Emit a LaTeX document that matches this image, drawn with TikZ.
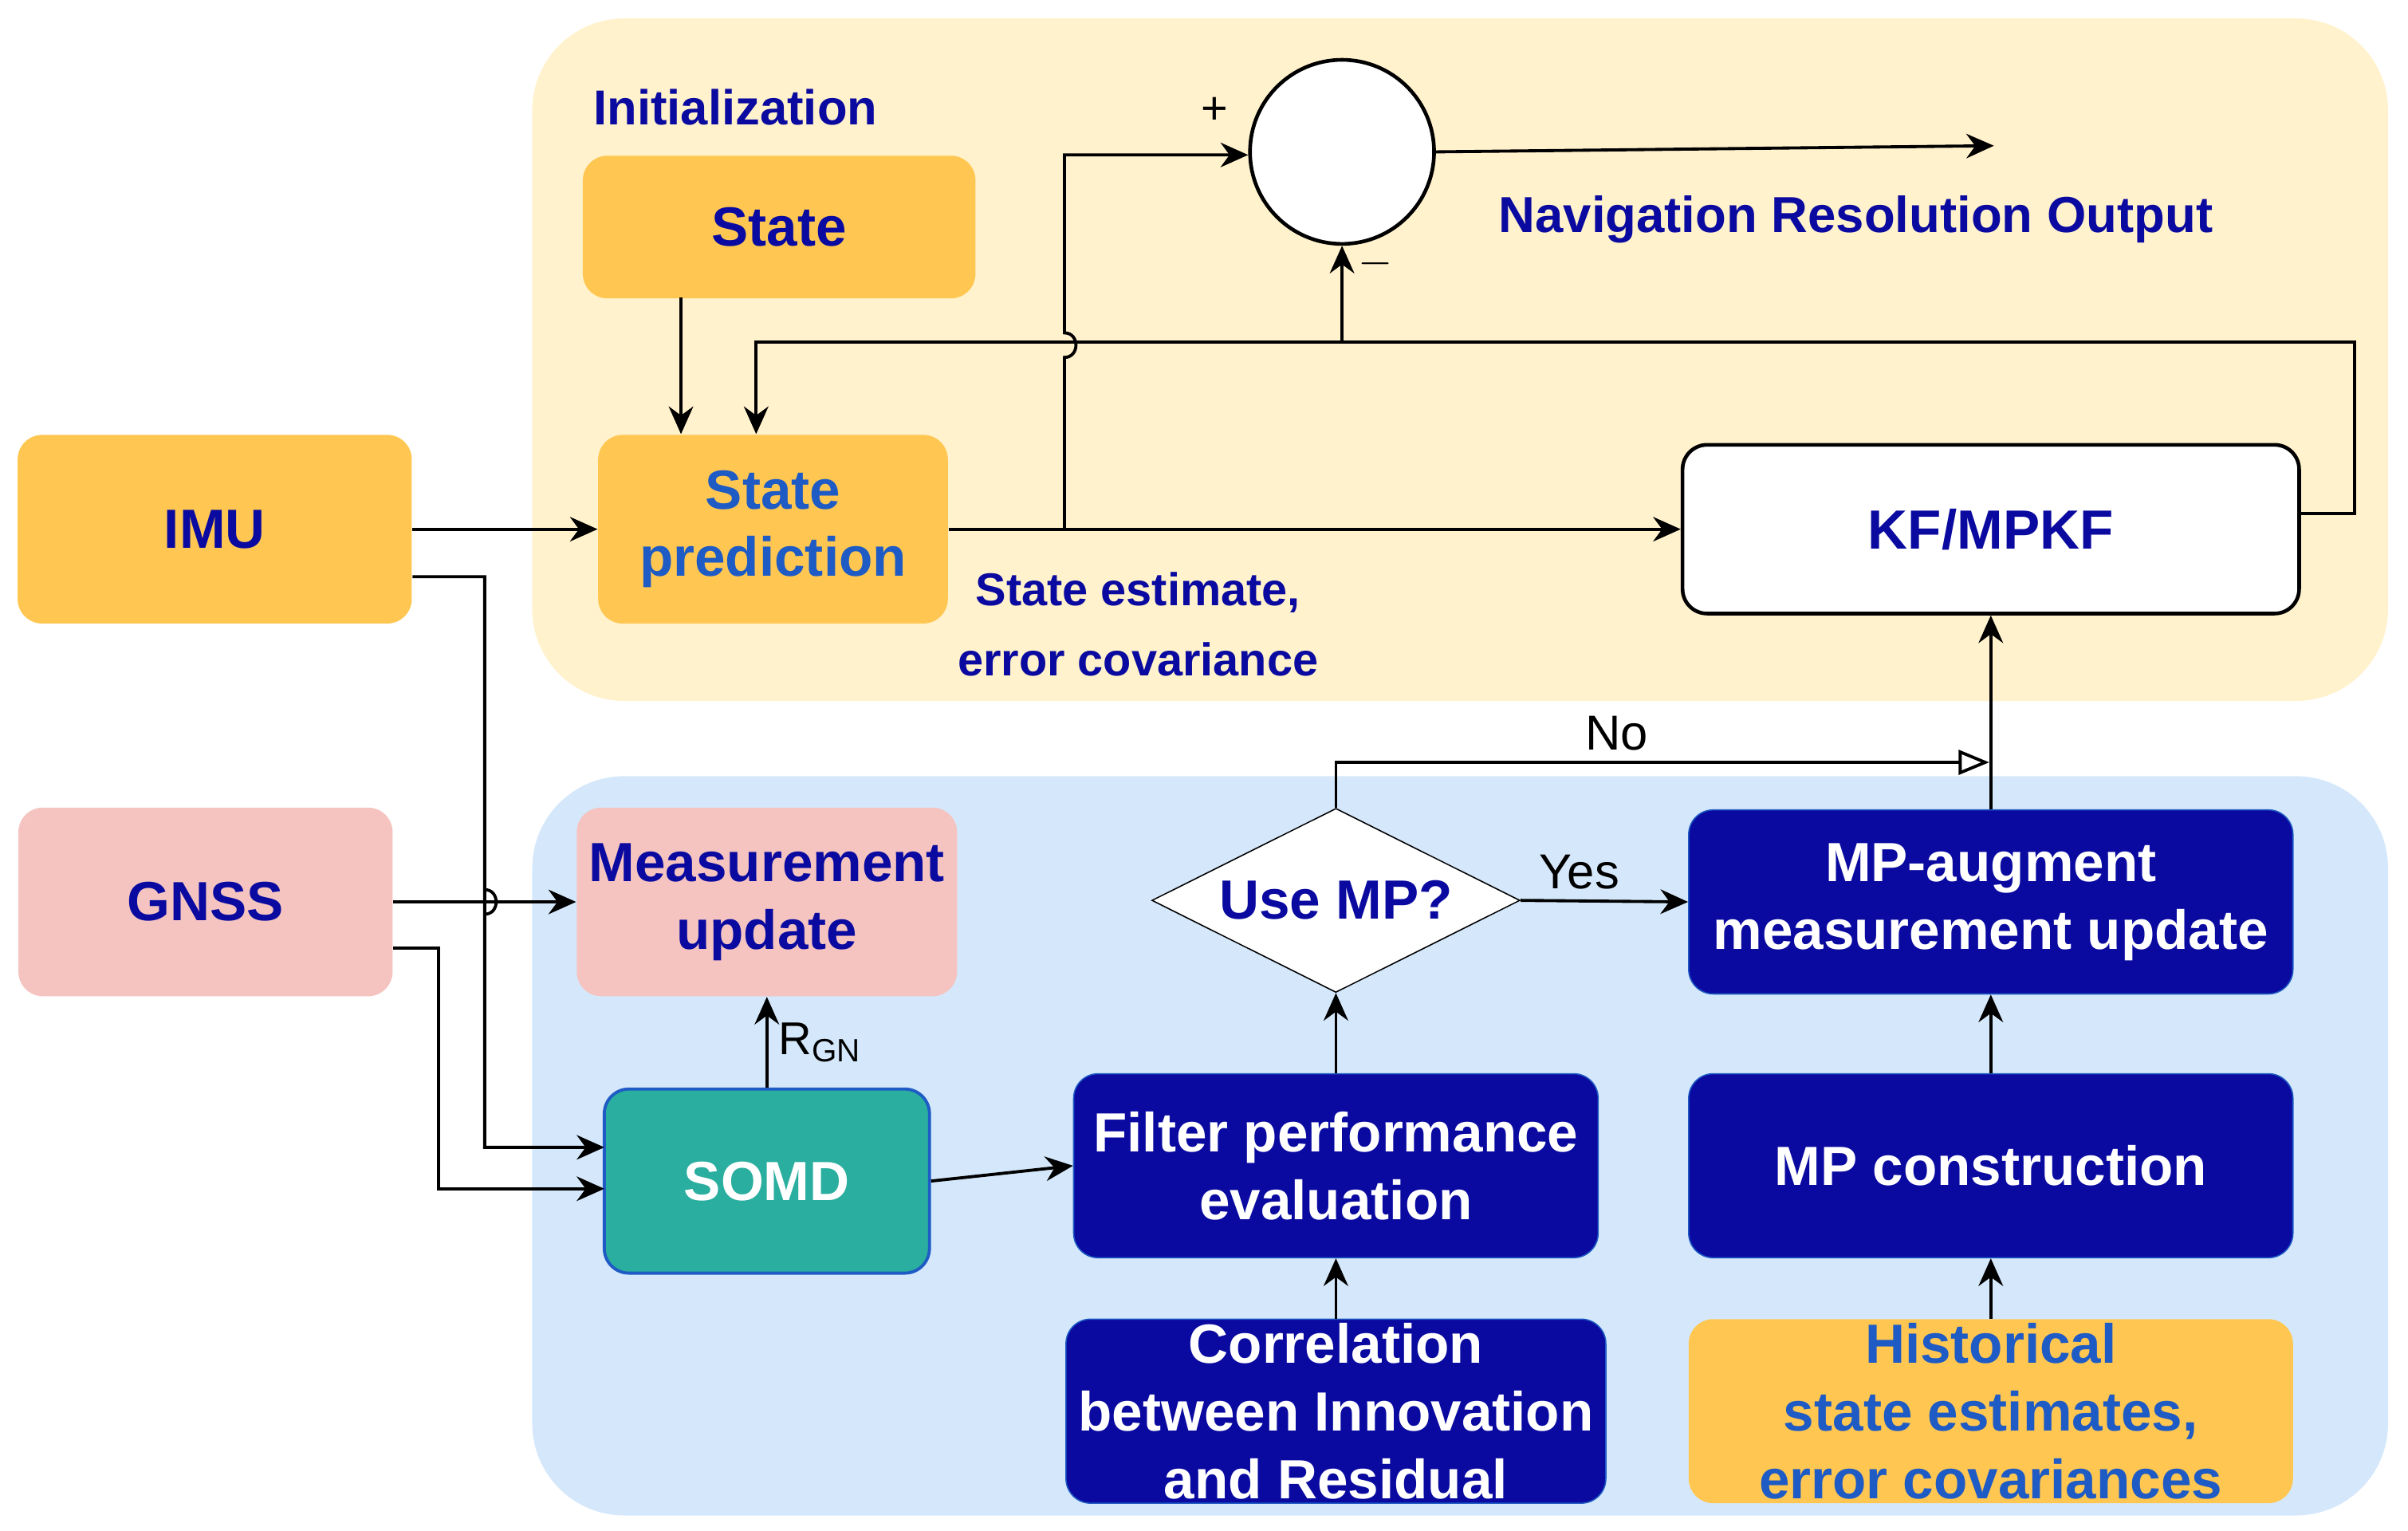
\documentclass[tikz,border=0pt]{standalone}
\usepackage{fontspec}
\setmainfont{Liberation Sans}
\usetikzlibrary{shapes.geometric,arrows.meta}
\definecolor{navy}{HTML}{0A0AA0}
\definecolor{lblue}{HTML}{1F5BC4}
\definecolor{orng}{HTML}{FFC752}
\definecolor{pnk}{HTML}{F5C4C1}
\definecolor{teal2}{HTML}{2AAE9F}
\definecolor{ybg}{HTML}{FFF2CC}
\definecolor{bbg}{HTML}{D5E8FB}
\tikzset{
  box/.style={rounded corners=8pt, align=center, inner sep=1pt,
    font=\fontsize{18}{22}\selectfont\bfseries},
  obox/.style={box, fill=orng, text=navy},
  pbox/.style={box, fill=pnk, text=navy},
  nbox/.style={box, fill=navy, draw=lblue, text=white},
  lbl/.style={font=\fontsize{16}{22}\selectfont\bfseries, text=navy, align=center},
  arr/.style={-{Stealth[length=9pt,width=8pt]}, line width=1pt},
  ln/.style={line width=1pt}
}
\begin{document}
\begin{tikzpicture}[x=0.5pt,y=-0.5pt]
\useasboundingbox (0,0) rectangle (1570,998);
% backgrounds
\fill[ybg, rounded corners=30pt] (347,12) rectangle (1557,457);
\fill[bbg, rounded corners=30pt] (347,506) rectangle (1557,988);

% nodes
\node[lbl, anchor=west] (init) at (380,70) {Initialization};
\node[obox, minimum width=128pt, minimum height=46.5pt] (state) at (508,148) {State};
\node[obox, minimum width=128.5pt, minimum height=61.5pt] (imu) at (140,345) {IMU};
\node[obox, text=lblue, minimum width=114pt, minimum height=61.5pt] (pred) at (504,345) {State\\prediction};
\node[box, draw=black, line width=1.2pt, fill=white, text=navy, minimum width=201pt, minimum height=55pt] (kf) at (1298,345) {KF/MPKF};
\node[circle, draw=black, line width=1.2pt, fill=white, minimum size=60pt, inner sep=0pt] (sum) at (875,99) {};
\node[lbl, font=\fontsize{16.5}{22}\selectfont\bfseries] (nav) at (1210,143) {Navigation Resolution Output};
\coordinate (out) at (1300,95);
\node[lbl, font=\fontsize{15}{23}\selectfont\bfseries] (est) at (742,407) {State estimate,\\error covariance};

\node[pbox, minimum width=122pt, minimum height=61.5pt] (gnss) at (134,588) {GNSS};
\node[pbox, minimum width=124pt, minimum height=61.5pt] (meas) at (500,588) {Measurement\\update};
\node[box, fill=teal2, draw=lblue, line width=1pt, text=white, minimum width=106pt, minimum height=60pt] (somd) at (500,770) {SOMD};
\node[diamond, draw=black, fill=white, aspect=2, minimum width=120pt, minimum height=60pt, inner sep=0pt, font=\fontsize{18}{22}\selectfont\bfseries, text=navy] (use) at (871,587) {Use MP?};
\node[nbox, minimum width=197pt, minimum height=60pt] (aug) at (1298,588) {MP-augment\\measurement update};
\node[nbox, minimum width=171pt, minimum height=60pt] (filt) at (871,760) {Filter performance\\evaluation};
\node[nbox, minimum width=197pt, minimum height=60pt] (mpc) at (1298,760) {MP construction};
\node[nbox, minimum width=176pt, minimum height=60pt] (corr) at (871,920) {Correlation\\between Innovation\\and Residual};
\node[obox, text=lblue, minimum width=197pt, minimum height=60pt] (hist) at (1298,920) {Historical\\state estimates,\\error covariances};

% upper loop
\draw[arr] (444,194) -- (444,283);
\draw[arr] (imu.east) -- (pred.west);
\draw[arr] (pred.east) -- (kf.west);
\draw[arr] (694,345) -- (694,233) .. controls (704,233) and (704,217) .. (694,217) -- (694,101) -- (sum.west |- 0,101);
\node[font=\fontsize{15}{18}\selectfont] (plus) at (792,72) {+};
\draw[arr] (sum.east) -- (out);
\draw[arr] ([yshift=5pt]kf.east) -- (1535,335) -- (1535,223) -- (493,223) -- (493,283);
\draw[arr] (875,223) -- (sum.south);
\node[font=\fontsize{15}{18}\selectfont] (minus) at (897,172) {$-$};

% lower part
\draw[arr] ([yshift=-15.5pt]imu.east) -- (316,376) -- (316,596) .. controls (326,596) and (326,580) .. (316,580) -- (316,748) -- (394,748);
\draw[arr] (gnss.east) -- (meas.west);
\draw[arr] ([yshift=-15pt]gnss.east) -- (286,618) -- (286,775) -- (394,775);
\draw[arr] (somd.north) -- (meas.south) node[pos=0.5, right, font=\fontsize{15}{18}\selectfont] {R\textsubscript{GN}};
\draw[arr] (somd.east) -- (filt.west);
\draw[arr] (filt.north) -- (use.south);
\draw[arr] (corr.north) -- (filt.south);
\draw[arr] (use.east) -- (aug.west) node[pos=0.35, above, font=\fontsize{16}{18}\selectfont] {Yes};
\draw[ln, -{Triangle[open, length=10pt, width=8pt]}] (use.north) -- (871,497) -- (1297,497) node[pos=0.43, above, font=\fontsize{16}{18}\selectfont] {No};
\draw[arr] (aug.north) -- (kf.south);
\draw[arr] (mpc.north) -- (aug.south);
\draw[arr] (hist.north) -- (mpc.south);
\end{tikzpicture}
\end{document}
